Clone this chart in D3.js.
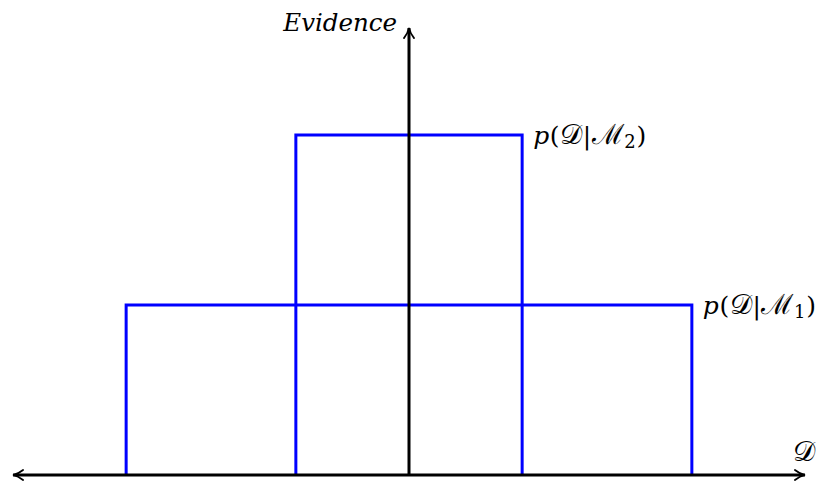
<!DOCTYPE html>
<html>
<head>
<meta charset="utf-8">
<script src="https://cdn.jsdelivr.net/npm/d3@7"></script>
<style>
  html, body { margin: 0; padding: 0; background: #fff; }
  svg { display: block; }
</style>
</head>
<body>
<svg id="chart" width="829" height="487"></svg>
<script>
// Two uniform evidence curves over the data space
const models = ["M1", "M2"];
const modelLeft = [-2.5, -1];
const modelRight = [2.5, 1];
const modelHeight = [1, 2];
const modelSub = ["1", "2"];

const xDomain = [-3.5, 3.5];
const yDomain = [0, 2.63];

const serif = "'DejaVu Serif', 'Liberation Serif', serif";

const svg = d3.select("#chart");

const x = d3.scaleLinear().domain(xDomain).range([13, 805]);
const y = d3.scaleLinear().domain(yDomain).range([475, 28]);

// arrow heads
const defs = svg.append("defs");
defs.append("marker")
  .attr("id", "arrow")
  .attr("viewBox", "0 0 10 10")
  .attr("refX", 9).attr("refY", 5)
  .attr("markerWidth", 4.2).attr("markerHeight", 4.2)
  .attr("markerUnits", "strokeWidth")
  .attr("orient", "auto-start-reverse")
  .append("path")
  .attr("d", "M1,1 Q5,4.2 9,5 Q5,5.8 1,9")
  .attr("fill", "none")
  .attr("stroke", "#000")
  .attr("stroke-width", 1.4)
  .attr("stroke-linecap", "round");

// blue step curves
const line = d3.line().x(d => x(d[0])).y(d => y(d[1]));
models.forEach((m, i) => {
  const pts = [
    [modelLeft[i], 0], [modelLeft[i], modelHeight[i]],
    [modelRight[i], modelHeight[i]], [modelRight[i], 0]
  ];
  svg.append("path")
    .attr("d", line(pts))
    .attr("fill", "none")
    .attr("stroke", "#0000ff")
    .attr("stroke-width", 3)
    .attr("stroke-linejoin", "miter");

  const lbl = svg.append("text")
    .attr("x", x(modelRight[i]) + 11)
    .attr("y", y(modelHeight[i]) + 9)
    .attr("font-family", serif)
    .attr("font-size", 25)
    .attr("letter-spacing", 0.6);
  lbl.append("tspan").attr("font-style", "italic").text("p");
  lbl.append("tspan").text("(");
  lbl.append("tspan").attr("font-size", 28).text("\u{1D49F}");
  lbl.append("tspan").text("|");
  lbl.append("tspan").attr("font-size", 28).text("\u2133");
  lbl.append("tspan").attr("font-size", 18).attr("dy", 4).text(modelSub[i]);
  lbl.append("tspan").attr("dy", -4).text(")");
});

// horizontal axis with arrows at both ends
svg.append("line")
  .attr("x1", x(xDomain[0])).attr("x2", x(xDomain[1]))
  .attr("y1", y(0)).attr("y2", y(0))
  .attr("stroke", "#000").attr("stroke-width", 3)
  .attr("marker-start", "url(#arrow)")
  .attr("marker-end", "url(#arrow)");

// vertical axis
svg.append("line")
  .attr("x1", x(0)).attr("x2", x(0))
  .attr("y1", y(0)).attr("y2", y(yDomain[1]))
  .attr("stroke", "#000").attr("stroke-width", 3)
  .attr("marker-end", "url(#arrow)");

// axis titles
svg.append("text")
  .attr("x", x(0) - 12).attr("y", 31)
  .attr("text-anchor", "end")
  .attr("font-family", serif)
  .attr("font-style", "italic")
  .attr("font-size", 24.5)
  .text("Evidence");

svg.append("text")
  .attr("x", x(xDomain[1]) + 10).attr("y", 461)
  .attr("text-anchor", "end")
  .attr("font-family", serif)
  .attr("font-size", 28)
  .text("\u{1D49F}");
</script>
</body>
</html>
